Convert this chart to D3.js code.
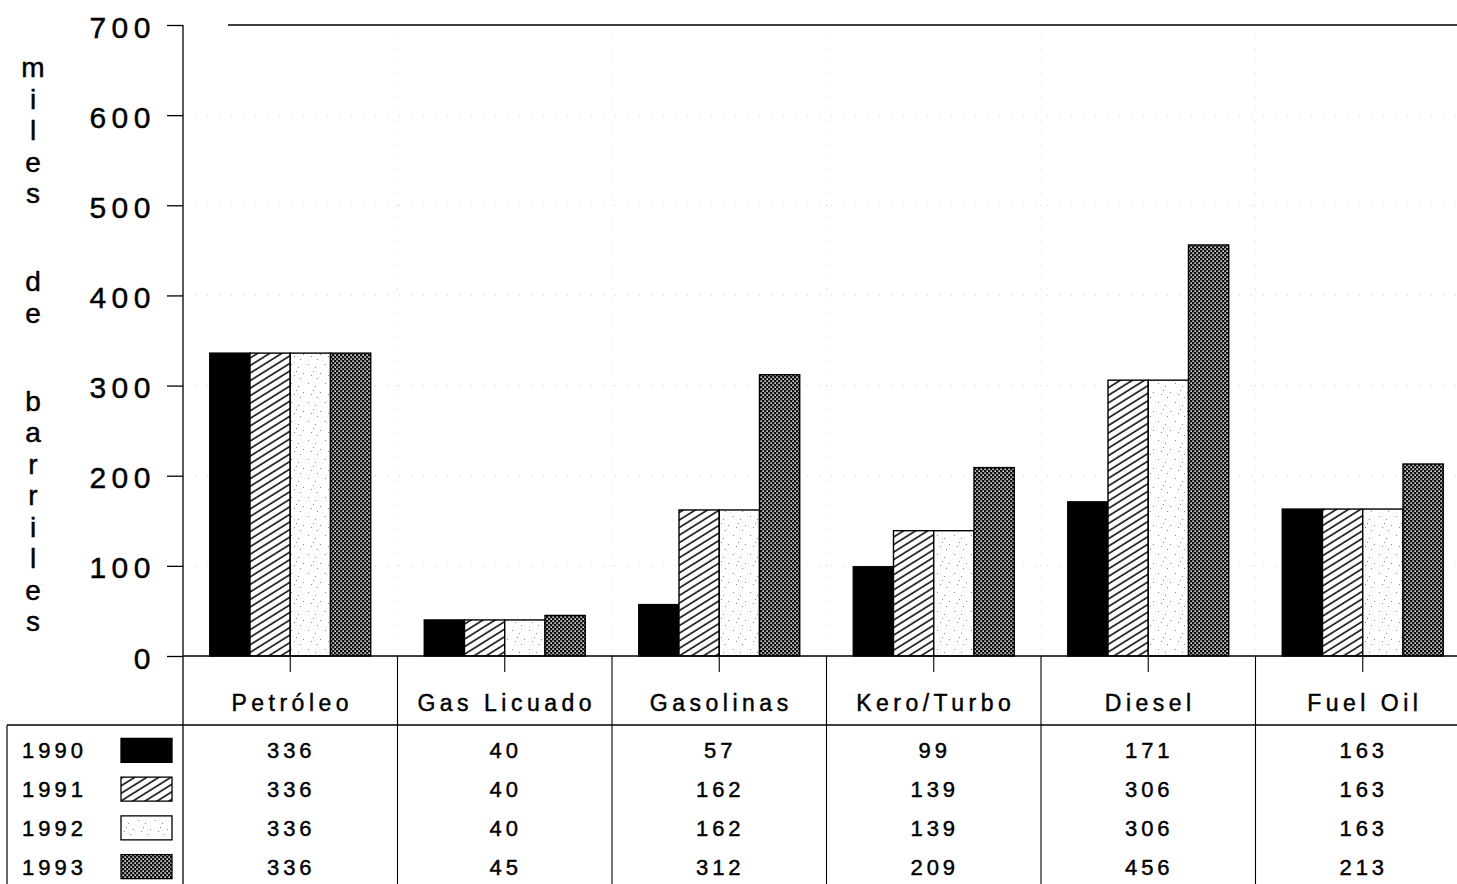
<!DOCTYPE html>
<html>
<head>
<meta charset="utf-8">
<script src="https://cdn.jsdelivr.net/npm/d3@7"></script>
<style>
  html, body { margin: 0; padding: 0; background: #fff; }
  svg { display: block; font-family: "Liberation Sans", Arial, Helvetica, sans-serif; }
</style>
</head>
<body>
<svg id="chart" width="1457" height="884"></svg>
<script>
// ---- data ----
const categories = ["Petróleo", "Gas Licuado", "Gasolinas", "Kero/Turbo", "Diesel", "Fuel Oil"];
const years = ["1990", "1991", "1992", "1993"];
const v1990 = [336, 40, 57, 99, 171, 163];
const v1991 = [336, 40, 162, 139, 306, 163];
const v1992 = [336, 40, 162, 139, 306, 163];
const v1993 = [336, 45, 312, 209, 456, 213];
const yTicks = [0, 100, 200, 300, 400, 500, 600, 700];
const axisTitle = "miles de barriles";

const seriesValues = [v1990, v1991, v1992, v1993];

const svg = d3.select("#chart");
const defs = svg.append("defs");

// patterns
const ph = defs.append("pattern").attr("id", "p1991").attr("patternUnits", "userSpaceOnUse")
  .attr("width", 12).attr("height", 6.4).attr("patternTransform", "rotate(-32)");
ph.append("rect").attr("width", 12).attr("height", 6.4).attr("fill", "#fff");
ph.append("line").attr("x1", 0).attr("x2", 12).attr("y1", 1).attr("y2", 1).attr("stroke", "#000").attr("stroke-width", 1.5);

const pd = defs.append("pattern").attr("id", "p1992").attr("patternUnits", "userSpaceOnUse")
  .attr("width", 17).attr("height", 19);
pd.append("rect").attr("width", 17).attr("height", 19).attr("fill", "#fff");
[[2,3],[9,6],[14,12],[5,14],[11,17],[7,10]].forEach(p => {
  pd.append("rect").attr("x", p[0]).attr("y", p[1]).attr("width", 1).attr("height", 1).attr("fill", "#888");
});

const pc = defs.append("pattern").attr("id", "p1993").attr("patternUnits", "userSpaceOnUse")
  .attr("width", 4).attr("height", 4);
pc.append("rect").attr("width", 4).attr("height", 4).attr("fill", "#111");
pc.append("rect").attr("x", 0.4).attr("y", 0.4).attr("width", 1.5).attr("height", 1.5).attr("fill", "#fff");
pc.append("rect").attr("x", 2.4).attr("y", 2.4).attr("width", 1.5).attr("height", 1.5).attr("fill", "#fff");

const fills = {"1990": "#000", "1991": "url(#p1991)", "1992": "url(#p1992)", "1993": "url(#p1993)"};

// scales
const x0 = 183, colW = 214.5;
const x = d3.scaleBand().domain(categories).range([x0, x0 + colW * categories.length]).paddingInner(0).paddingOuter(0);
const xi = d3.scaleBand().domain(years).range([0, x.bandwidth()]).paddingInner(0).paddingOuter(0.665);
const y = d3.scaleLinear().domain([0, 700]).range([656, 25]);

// faint dotted gridlines
const grid = svg.append("g").attr("stroke", "#aaa").attr("stroke-width", 1).attr("stroke-dasharray", "1,11").attr("opacity", 0.5);
yTicks.filter(t => t > 0 && t < 700).forEach(t => {
  grid.append("line").attr("x1", x0).attr("x2", 1457).attr("y1", y(t)).attr("y2", y(t));
});
categories.slice(1).forEach(c => {
  grid.append("line").attr("x1", x(c)).attr("x2", x(c)).attr("y1", y(700)).attr("y2", y(0));
});

// bars
const barsG = svg.append("g");
years.forEach((yr, si) => {
  barsG.selectAll(null).data(categories).enter().append("rect")
    .attr("x", c => x(c) + xi(yr))
    .attr("y", (c, i) => y(seriesValues[si][i]))
    .attr("width", xi.bandwidth())
    .attr("height", (c, i) => y(0) - y(seriesValues[si][i]))
    .attr("fill", fills[yr])
    .attr("stroke", "#000").attr("stroke-width", 1.4);
});

const textStroke = t => t.attr("stroke", "#000").attr("stroke-width", 0.45);

// y axis
const yAxis = d3.axisLeft(y).tickValues(yTicks).tickSize(16).tickPadding(27).tickFormat(d3.format("d"));
const ya = svg.append("g").attr("transform", `translate(${x0},0)`).call(yAxis);
ya.select(".domain").remove();
ya.selectAll(".tick line").attr("stroke", "#000").attr("stroke-width", 1.3);
ya.selectAll(".tick text").attr("font-size", 30).attr("fill", "#000").attr("letter-spacing", "5.5px")
  .attr("font-family", "'Liberation Sans', Arial, sans-serif").attr("dy", "0.4em").call(textStroke);
ya.selectAll(".tick text").attr("x", -27);

// axis frame lines
svg.append("line").attr("x1", x0).attr("x2", x0).attr("y1", y(700)).attr("y2", 884).attr("stroke", "#000").attr("stroke-width", 1.3);
svg.append("line").attr("x1", 228).attr("x2", 1457).attr("y1", y(700)).attr("y2", y(700)).attr("stroke", "#000").attr("stroke-width", 1.6);
svg.append("line").attr("x1", x0).attr("x2", 1457).attr("y1", y(0)).attr("y2", y(0)).attr("stroke", "#000").attr("stroke-width", 1.3);

// x axis category row
const xAxis = d3.axisBottom(x).tickSize(16).tickFormat("");
const xa = svg.append("g").attr("transform", `translate(0,${y(0)})`).call(xAxis);
xa.select(".domain").remove();
xa.selectAll(".tick line").attr("stroke", "#000").attr("stroke-width", 1.1);

svg.append("g").selectAll("text").data(categories).enter().append("text")
  .attr("x", c => x(c) + x.bandwidth() / 2 + 2)
  .attr("y", 711)
  .attr("text-anchor", "middle")
  .attr("font-size", 23).attr("letter-spacing", "4.5px")
  .attr("fill", "#000").call(textStroke)
  .text(c => c);

// table lines
const tableTop = 725;
svg.append("line").attr("x1", 7).attr("x2", 1457).attr("y1", tableTop).attr("y2", tableTop).attr("stroke", "#000").attr("stroke-width", 1.3);
svg.append("line").attr("x1", 7).attr("x2", 7).attr("y1", tableTop).attr("y2", 884).attr("stroke", "#000").attr("stroke-width", 1.2);
categories.slice(1).forEach(c => {
  svg.append("line").attr("x1", x(c)).attr("x2", x(c)).attr("y1", y(0)).attr("y2", 884).attr("stroke", "#000").attr("stroke-width", 1.1);
});

// table rows
const rowY = d3.scaleBand().domain(years).range([731, 886]);
years.forEach((yr, si) => {
  const cy = rowY(yr) + rowY.bandwidth() / 2;
  svg.append("text").attr("x", 22).attr("y", cy + 8).attr("font-size", 22).attr("letter-spacing", "4px").attr("fill", "#000").call(textStroke).text(yr);
  svg.append("rect").attr("x", 121).attr("y", cy - 12).attr("width", 51).attr("height", 24)
    .attr("fill", fills[yr]).attr("stroke", "#000").attr("stroke-width", 1.3);
  svg.append("g").selectAll("text").data(categories).enter().append("text")
    .attr("x", c => x(c) + x.bandwidth() / 2 + 1)
    .attr("y", cy + 8)
    .attr("text-anchor", "middle")
    .attr("font-size", 22).attr("letter-spacing", "4px").attr("fill", "#000").call(textStroke)
    .text((c, i) => seriesValues[si][i]);
});

// vertical axis title (stacked letters)
const titleChars = Array.from(axisTitle);
let idx = 0;
const pos = [];
titleChars.forEach(ch => {
  if (ch === " ") { idx += 1.8; } else { pos.push({ch, i: idx}); idx += 1; }
});
svg.append("g").selectAll("text").data(pos).enter().append("text")
  .attr("x", 33).attr("y", d => 77 + d.i * 31.5)
  .attr("text-anchor", "middle").attr("font-size", 28).attr("fill", "#000").call(textStroke)
  .text(d => d.ch);
</script>
</body>
</html>
